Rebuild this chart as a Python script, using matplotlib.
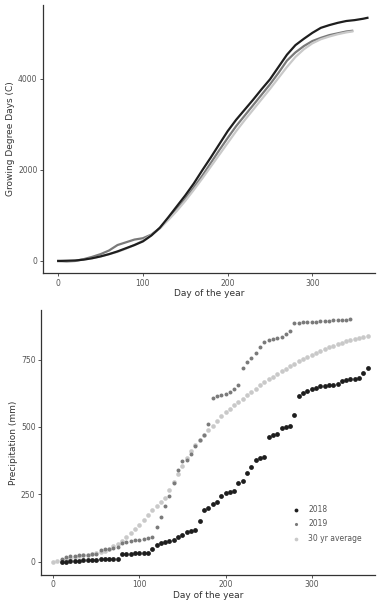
import numpy as np
import matplotlib
matplotlib.use('Agg')
import matplotlib.pyplot as plt

# growing degree days (top panel)
gdd_days_2018 = list(range(0, 361, 10)) + [365]
gdd_2018 = [0, 5, 10, 30, 60, 100, 150, 210, 280, 350,
            430, 560, 730, 960, 1200, 1440, 1700, 1990, 2270, 2560,
            2850, 3100, 3320, 3540, 3770, 3990, 4260, 4530, 4740, 4880,
            5010, 5120, 5180, 5230, 5270, 5290, 5320, 5340]
gdd_days_2019 = list(range(0, 341, 10)) + [347]
gdd_2019 = [0, -10, 0, 40, 90, 150, 230, 350, 410, 470,
            500, 580, 720, 920, 1130, 1360, 1610, 1870, 2150, 2430,
            2700, 2960, 3190, 3420, 3650, 3880, 4130, 4400, 4580, 4720,
            4830, 4900, 4960, 5000, 5040, 5055]
gdd_avg = [0, 0, 10, 30, 60, 100, 150, 200, 270, 350,
           450, 570, 720, 900, 1100, 1320, 1560, 1810, 2070, 2330,
           2590, 2850, 3090, 3320, 3550, 3780, 4020, 4260, 4480, 4650,
           4780, 4870, 4930, 4980, 5020, 5040]

# cumulative precipitation (bottom panel)
pr_days_2018 = list(range(10, 366, 5))
pr_2018 = [0, 0, 2, 3, 4, 5, 5, 5, 6, 8, 8, 9, 9, 10, 28, 29, 30, 31, 31, 32,
           33, 45, 60, 68, 74, 76, 82, 90, 100, 110, 113, 117, 150, 190, 200, 215,
           222, 245, 255, 257, 262, 290, 300, 328, 350, 378, 385, 390, 462, 470,
           472, 495, 500, 505, 545, 615, 625, 632, 640, 645, 650, 652, 655, 656,
           660, 672, 675, 676, 678, 680, 700, 717]
pr_days_2019 = list(range(10, 346, 5))
pr_2019 = [10, 18, 20, 22, 23, 24, 25, 28, 30, 42, 45, 47, 50, 55, 70, 72, 75, 80,
           82, 83, 86, 92, 130, 165, 205, 245, 290, 340, 375, 378, 400, 430, 450,
           470, 510, 608, 615, 618, 622, 628, 640, 655, 720, 740, 755, 775, 795,
           815, 822, 825, 830, 835, 845, 855, 885, 887, 888, 890, 890, 891, 892,
           893, 894, 895, 896, 897, 898, 900]
pr_days_avg = list(range(0, 366, 5))
pr_avg = [0, 2, 5, 9, 13, 17, 20, 23, 26, 29, 31, 34, 40, 48, 57, 66, 78, 92, 106,
          120, 136, 155, 172, 190, 205, 220, 236, 265, 295, 325, 355, 385, 412,
          432, 452, 470, 488, 505, 522, 540, 555, 568, 580, 593, 605, 618, 630,
          642, 655, 665, 676, 686, 696, 706, 716, 726, 735, 745, 752, 760, 768,
          775, 782, 790, 795, 800, 806, 812, 817, 822, 827, 831, 835, 838]

col_2018 = '#1e1e1e'
col_2019 = '#7a7a7a'
col_avg = '#c9c9c9'


def style_axes(ax):
    for side in ['top', 'right']:
        ax.spines[side].set_visible(False)
    for side in ['left', 'bottom']:
        ax.spines[side].set_color('#333333')
        ax.spines[side].set_linewidth(0.9)
    ax.tick_params(axis='both', length=2.5, width=0.7, color='#555555',
                   labelsize=5.5, labelcolor='#555555', pad=1.5)
    ax.set_xticks([0, 100, 200, 300])
    ax.set_xlabel('Day of the year', fontsize=6.5, color='#333333', labelpad=1)


fig = plt.figure(figsize=(3.8, 6), dpi=100)

ax1 = fig.add_axes([0.113, 0.545, 0.874, 0.447])
ax1.plot(gdd_days_2018, gdd_2018, color=col_2018, lw=1.6, zorder=3)
ax1.plot(gdd_days_2019, gdd_2019, color=col_2019, lw=1.6, zorder=2)
ax1.plot(gdd_days_2019, gdd_avg, color=col_avg, lw=1.6, zorder=2)
ax1.set_xlim(-18, 374)
ax1.set_ylim(-264, 5626)
ax1.set_yticks([0, 2000, 4000])
ax1.set_ylabel('Growing Degree Days (C)', fontsize=6.5, color='#333333', labelpad=2)
style_axes(ax1)

ax2 = fig.add_axes([0.108, 0.042, 0.879, 0.441])
ax2.scatter(pr_days_avg, pr_avg, s=11, color=col_avg, lw=0, label='30 yr average', zorder=1)
ax2.scatter(pr_days_2019, pr_2019, s=8, color=col_2019, lw=0, label='2019', zorder=2)
ax2.scatter(pr_days_2018, pr_2018, s=12, color=col_2018, lw=0, label='2018', zorder=3)
ax2.set_xlim(-14, 373.5)
ax2.set_ylim(-49, 933)
ax2.set_yticks([0, 250, 500, 750])
ax2.set_ylabel('Precipitation (mm)', fontsize=6.5, color='#333333', labelpad=2)
style_axes(ax2)

handles, labels = ax2.get_legend_handles_labels()
order = [2, 1, 0]
ax2.legend([handles[i] for i in order], [labels[i] for i in order],
           loc='upper left', bbox_to_anchor=(0.72, 0.29), frameon=False,
           fontsize=5.5, labelcolor='#555555', handletextpad=0.6,
           labelspacing=0.7, markerscale=0.8)

fig.savefig('out.png', dpi=100)
